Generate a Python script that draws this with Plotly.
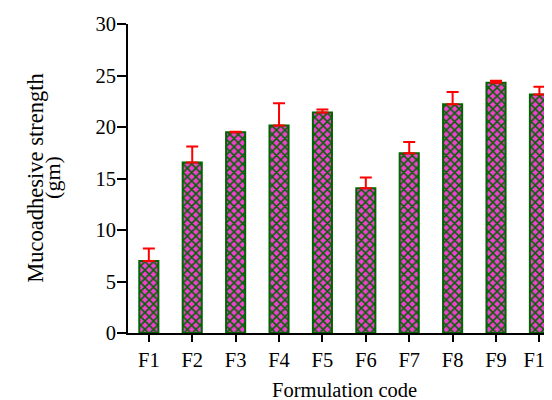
import plotly.graph_objects as go

categories = ["F1", "F2", "F3", "F4", "F5", "F6", "F7", "F8", "F9", "F10"]
strength = [7.0, 16.55, 19.5, 20.15, 21.4, 14.05, 17.45, 22.2, 24.3, 23.15]
sd = [1.2, 1.55, 0.05, 2.15, 0.3, 1.05, 1.1, 1.2, 0.2, 0.75]
y_ticks = [0, 5, 10, 15, 20, 25, 30]
x_title = "Formulation code"
y_title_lines = ["Mucoadhesive strength", "(gm)"]

FONT = "Liberation Serif"

fig = go.Figure()
fig.add_trace(go.Bar(
    x=categories,
    y=strength,
    width=0.44,
    marker=dict(
        color="#f040d0",
        line=dict(color="#006400", width=2),
        pattern=dict(shape="x", bgcolor="#f040d0", fgcolor="#006400",
                     size=6, solidity=0.45, fillmode="replace"),
    ),
    error_y=dict(type="data", symmetric=False, array=sd,
                 arrayminus=[0] * len(sd), color="#ff0000",
                 thickness=2, width=6),
))

# page body has an 8px margin; compensate so the figure fills the 552x400 window
fig.update_layout(
    width=544, height=392,
    margin=dict(l=120, r=0, t=15.5, b=66.5, pad=0, autoexpand=False),
    paper_bgcolor="white", plot_bgcolor="white",
    font=dict(family=FONT, size=20, color="black"),
    showlegend=False,
)
fig.update_xaxes(
    type="category",
    range=[-0.48, 9.29],
    showline=True, linecolor="black", linewidth=2,
    ticks="outside", ticklen=7, tickwidth=2, tickcolor="black",
    showgrid=False, zeroline=False,
    tickfont=dict(family=FONT, size=20.5),
)
fig.update_yaxes(
    range=[0, 30],
    tickvals=y_ticks,
    showline=True, linecolor="black", linewidth=2,
    ticks="outside", ticklen=9, tickwidth=2, tickcolor="black",
    ticklabelstandoff=-3,
    showgrid=False, zeroline=False,
    tickfont=dict(family=FONT, size=20.5),
)

fig.add_annotation(text=x_title, xref="paper", yref="paper", x=0.511, y=-0.185,
                   xanchor="center", yanchor="middle", showarrow=False,
                   font=dict(family=FONT, size=20.5))
fig.add_annotation(text=y_title_lines[0], xref="paper", yref="paper", x=-0.219, y=0.5,
                   xanchor="center", yanchor="middle", textangle=-90, showarrow=False,
                   font=dict(family=FONT, size=22.5))
fig.add_annotation(text=y_title_lines[1], xref="paper", yref="paper", x=-0.177, y=0.505,
                   xanchor="center", yanchor="middle", textangle=-90, showarrow=False,
                   font=dict(family=FONT, size=22))

fig.write_html("out.html")
